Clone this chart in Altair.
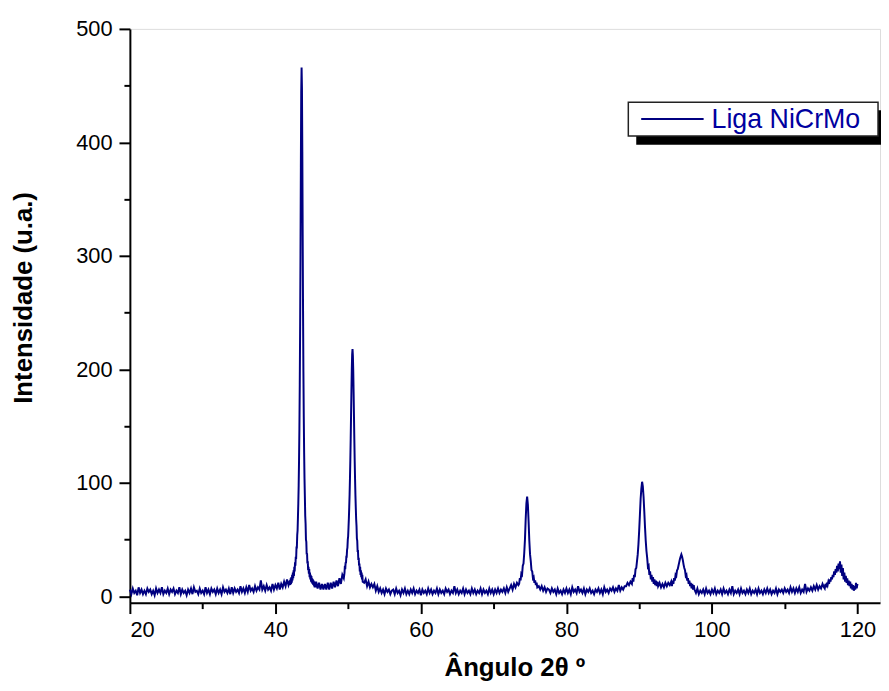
import altair as alt
import pandas as pd

SERIES = "Liga NiCrMo"
X_TITLE = "Ângulo 2θ º"
Y_TITLE = "Intensidade (u.a.)"
X_MAJOR = [20, 40, 60, 80, 100, 120]
X_MINOR = [30, 50, 70, 90, 110]
Y_MAJOR = [0, 100, 200, 300, 400, 500]
Y_MINOR = [50, 150, 250, 350, 450]

# (start angle, step) and intensities, segment by segment
SEG_A = (20.0, 0.2, [
    6, 2, 7, 3, 5, 1, 8, 3, 6, 2,
    5, 2, 7, 4, 6, 2, 5, 1, 7, 3,
    6, 3, 8, 2, 5, 3, 7, 2, 6, 4,
    7, 2, 5, 3, 8, 2, 6, 3, 5, 1,
    6, 3, 7, 2, 8, 4, 5, 2, 7, 3,
    5, 2, 8, 3, 6, 2, 7, 4, 6, 2,
    7, 3, 6, 2, 8, 4, 6, 3, 7, 2,
    8, 3, 7, 4, 6, 3, 9, 4, 7, 3,
    8, 4, 10, 5, 7, 4, 9, 5, 8, 6,
    14, 6, 9, 5, 10, 6, 8, 5, 11, 6,
    10, 7, 12, 6, 11, 8, 13, 9, 15, 10])
SEG_B = (42.0, 0.05, [
    14, 10, 16, 11, 17, 12, 19, 14, 21, 16,
    23, 18, 26, 22, 30, 27, 35, 33, 43, 43,
    54, 58, 70, 82, 98, 120, 148, 187, 238, 303,
    378, 444, 466, 448, 392, 318, 252, 198, 158, 127,
    104, 88, 71, 64, 50, 48, 37, 38, 29, 31,
    23, 26, 20, 24, 17, 21, 15, 19, 13, 18,
    12, 16, 11, 15, 10, 14, 9, 13, 8, 12,
    8])
SEG_C = (45.6, 0.2, [13, 7, 12, 6, 11, 6, 11, 6, 12, 6, 12, 7, 13, 8, 14, 9, 16, 11, 19, 16])
SEG_D = (49.5, 0.05, [
    21, 27, 24, 30, 29, 35, 35, 41, 43, 50,
    53, 61, 69, 79, 90, 104, 120, 139, 160, 181,
    200, 213, 218, 212, 199, 180, 159, 138, 119, 103,
    89, 78, 68, 62, 51, 49, 40, 40, 32, 34,
    27, 29, 22, 26, 19, 23, 17, 21, 15, 19,
    13])
SEG_E = (52.2, 0.2, [
    12, 15, 9, 13, 8, 11, 8, 11, 5, 9,
    4, 7, 3, 6, 2, 7, 4, 6, 2, 5,
    6, 2, 7, 3, 5, 1, 6, 3, 7, 2,
    5, 2, 6, 3, 7, 2, 5, 3, 6, 1,
    6, 3, 5, 2, 7, 3, 6, 2, 5, 3,
    7, 2, 6, 3, 5, 2, 7, 4, 6, 2,
    5, 3, 9, 3, 6, 2, 5, 3, 7, 2,
    6, 3, 5, 2, 7, 3, 6, 2, 5, 3,
    7, 2, 6, 3, 5, 2, 7, 3, 6, 2,
    6, 3, 7, 3, 6, 4, 7, 3, 8, 4,
    7, 10, 6, 11, 8, 12, 10])
SEG_F = (73.5, 0.1, [11, 16, 14, 20, 19, 27, 29, 38, 50, 68, 82, 88, 81, 66, 49, 37,
                     31, 23, 22, 16, 17, 12, 14, 10, 12, 8])
SEG_G = (76.2, 0.2, [
    9, 6, 9, 5, 8, 4, 7, 6, 3, 7,
    4, 6, 2, 7, 3, 5, 2, 6, 3, 7,
    3, 6, 2, 8, 4, 6, 3, 9, 4, 6,
    3, 7, 2, 6, 4, 7, 3, 5, 2, 6,
    4, 7, 3, 6, 2, 8, 4, 6, 3, 7,
    5, 8, 4, 7, 5, 10, 5, 8, 6, 9,
    9, 12, 10, 13])
SEG_H = (89.0, 0.1, [11, 16, 13, 19, 17, 24, 25, 31, 37, 46, 58, 72, 86, 95, 101, 97, 88, 75,
                     61, 49, 40, 34, 26, 27, 19, 22, 15, 19, 13, 17, 11, 15, 10, 14, 9, 13])
SEG_I = (92.6, 0.2, [9, 12, 8, 11, 8, 12, 9, 12, 10, 13])
SEG_J = (94.5, 0.1, [9, 14, 11, 16, 14, 19, 18, 23, 24, 27, 30, 33, 35, 37, 35, 32, 28, 25,
                     23, 18, 19, 14, 16, 11, 14, 9, 12, 7, 11, 6, 10])
SEG_K = (97.6, 0.2, [
    6, 3, 7, 2, 5, 3, 6, 2, 7, 3,
    5, 2, 6, 3, 7, 2, 5, 3, 6, 2,
    7, 3, 5, 2, 6, 3, 9, 2, 5, 3,
    6, 2, 7, 3, 5, 2, 6, 3, 7, 2,
    5, 3, 6, 2, 7, 3, 5, 2, 6, 3,
    7, 3, 6, 2, 5, 3, 7, 2, 6, 4,
    6, 3, 7, 4, 6, 3, 8, 4, 7, 3,
    7, 4, 8, 3, 6, 4, 11, 4, 7, 5,
    8, 5, 9, 6, 10, 6, 9, 7, 11, 8])
SEG_L = (115.5, 0.1, [
    7, 11, 8, 12, 10, 13, 11, 15, 13, 17,
    15, 19, 17, 22, 19, 24, 21, 27, 22, 29,
    24, 31, 21, 28, 18, 25, 15, 21, 13, 18,
    12, 16, 10, 14, 9, 13, 7, 11, 6, 10,
    5, 9, 6, 12, 7, 11])

SEGMENTS = [SEG_A, SEG_B, SEG_C, SEG_D, SEG_E, SEG_F, SEG_G, SEG_H, SEG_I, SEG_J, SEG_K, SEG_L]

xs, ys = [], []
for start, step, vals in SEGMENTS:
    for i, v in enumerate(vals):
        xs.append(round(start + i * step, 3))
        ys.append(v)
df = pd.DataFrame({"angle": xs, "intensity": ys, "series": SERIES})

NAVY = "#000080"
FONT = "Liberation Sans"
W, H = 757, 579

xscale = alt.Scale(domain=[20, 123.1], nice=False, zero=False)
yscale = alt.Scale(domain=[-5.5, 500], nice=False, zero=False)

common_axis = dict(grid=False, domainColor="black", domainWidth=2, tickColor="black",
                   tickWidth=2, labelFont=FONT, labelFontSize=22, labelColor="black",
                   titleFont=FONT, titleFontSize=26, titleFontWeight="bold", titleColor="black")

line = alt.Chart(df).mark_line(color=NAVY, strokeWidth=2).encode(
    x=alt.X("angle:Q", scale=xscale,
            axis=alt.Axis(values=X_MAJOR, orient="bottom", title=X_TITLE, tickSize=11,
                          labelPadding=6, titleX=388, titleY=74, titleBaseline="alphabetic",
                          **common_axis)),
    y=alt.Y("intensity:Q", scale=yscale,
            axis=alt.Axis(values=Y_MAJOR, orient="left", title=Y_TITLE, tickSize=11,
                          labelPadding=7, titleX=-107, titleY=271, titleBaseline="middle",
                          **common_axis)),
    order="angle:Q",
)

minor = alt.Chart(df).mark_line(opacity=0).encode(
    x=alt.X("angle:Q", scale=xscale,
            axis=alt.Axis(values=X_MINOR, orient="bottom", title=None, labels=False,
                          domain=False, tickSize=6, tickWidth=2, tickColor="black", grid=False)),
    y=alt.Y("intensity:Q", scale=yscale,
            axis=alt.Axis(values=Y_MINOR, orient="left", title=None, labels=False,
                          domain=False, tickSize=6, tickWidth=2, tickColor="black", grid=False)),
)

one = alt.Data(values=[{"label": SERIES}])
shadow = alt.Chart(one).mark_rect(color="black").encode(
    x=alt.value(511), x2=alt.value(770), y=alt.value(82), y2=alt.value(117))
box = alt.Chart(one).mark_rect(fill="white", stroke="#222222", strokeWidth=1.5).encode(
    x=alt.value(503), x2=alt.value(755), y=alt.value(74), y2=alt.value(108))
sample = alt.Chart(one).mark_rule(color=NAVY, strokeWidth=2).encode(
    x=alt.value(516), x2=alt.value(579), y=alt.value(91))
label = alt.Chart(one).mark_text(align="left", baseline="alphabetic", font=FONT,
                                 fontSize=27, color="#0000A0").encode(
    x=alt.value(587), y=alt.value(100), text="label:N")

chart = alt.layer(line, minor, shadow, box, sample, label).resolve_axis(
    x="independent", y="independent"
).properties(
    width=W, height=H,
    autosize=alt.AutoSizeParams(type="none"),
    padding={"left": 123, "top": 18, "right": 1, "bottom": 78},
).configure_view(stroke=None).configure(background="white")

chart.save("out.html", embed_options={"renderer": "svg", "actions": False})
